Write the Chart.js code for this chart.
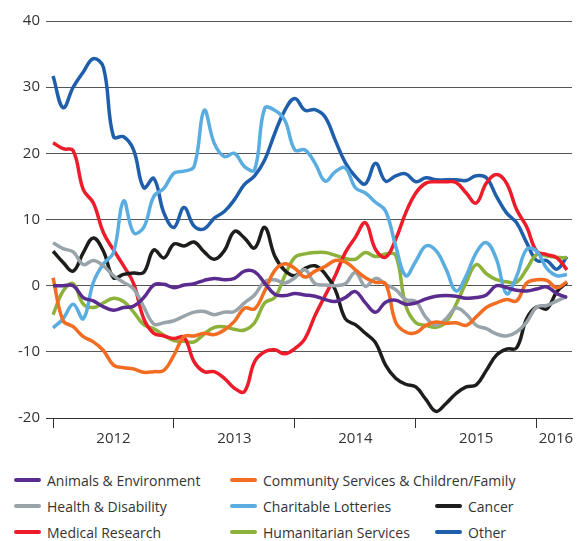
<!DOCTYPE html>
<html>
<head>
<meta charset="utf-8">
<script src="https://cdn.jsdelivr.net/npm/chart.js@4"></script>
<style>
  body { margin: 0; background: #fff; font-family: 'Open Sans', sans-serif; }
  #wrap { position: relative; width: 581px; height: 458px; }
  #legend { padding: 9px 0 0 14px; color: #333; font-size: 14px; }
  .row { display: flex; height: 26px; align-items: center; white-space: nowrap; }
  .item { display: flex; align-items: center; }
  .item .sw { width: 27px; height: 4px; border-radius: 2px; margin-right: 6px; flex: none; }
  .c1 { width: 216px; } .c2 { width: 205px; }
</style>
</head>
<body>
<div id="wrap"><canvas id="grafico"></canvas></div>
<div id="legend"></div>
<script>
// monthly growth, Jan 2012 .. Apr 2016
const years = ['2012', '2013', '2014', '2015', '2016'];

const animals = [0, 0, 0, -1.8, -2.3, -3.2, -3.7, -3.3, -3.1, -1.8, 0.1, 0.2, -0.3, 0.1, 0.3, 0.8, 1.1, 0.9, 1.1, 2.2, 2.1, 0.4, -1.3, -1.5, -1.2, -1.4, -1.6, -2.1, -2.4, -1.8, -0.9, -2.6, -4, -2.5, -2.2, -2.8, -2.6, -2, -1.6, -1.5, -1.6, -1.9, -1.8, -1.4, 0, -0.3, -0.7, -0.8, -0.5, -0.2, -1.2, -1.8];
const community = [1.2, -5.3, -6.2, -7.7, -8.5, -9.8, -12, -12.4, -12.6, -13.1, -13, -12.8, -10.5, -7.7, -7.6, -7.2, -7.4, -6.7, -5.4, -3.4, -3.5, -0.8, 2.3, 3.3, 2.6, 1.3, 2.2, 2.9, 3.8, 3.6, 2.4, 1.2, 0.5, 0.3, -5.5, -7, -7.1, -6, -5.5, -5.7, -5.6, -6, -4.7, -3.3, -2.6, -2.1, -2.3, 0.4, 0.9, 0.8, -0.3, 0.6];
const health = [6.5, 5.6, 5.1, 3.2, 3.8, 3, 1.5, 0.5, -0.5, -3.2, -5.8, -5.6, -5.3, -4.6, -4, -3.9, -4.4, -4, -3.9, -2.6, -1.4, 0.6, 0.9, 0.4, 1.2, 2.4, 0.3, 0.1, 0, 0.3, 2, -0.1, 1.1, 0.2, -0.6, -2.1, -2.4, -4.8, -6, -5, -3.4, -4.3, -6, -6.5, -7.3, -7.6, -7, -5.5, -3.2, -3, -2.3, -1.6];
const lotteries = [-6.4, -5, -2.8, -5, 0.5, 3.3, 5, 12.8, 8, 8.8, 13.5, 14.7, 17, 17.3, 18, 26.5, 21.5, 19.5, 20, 18, 17.5, 26.8, 26.5, 25, 20.5, 20.5, 18.5, 15.8, 17.2, 17.8, 14.8, 14, 12.6, 11.3, 6, 1.5, 3.7, 6, 5.3, 2.5, -0.8, 1.5, 5, 6.5, 4, -1.2, 1.4, 5.5, 5.2, 2.6, 1.5, 1.7];
const cancer = [5.2, 3.5, 2.2, 5, 7.2, 5.2, 1.2, 1.7, 1.9, 2, 5.4, 4.2, 6.3, 6, 6.6, 5.1, 4, 5.3, 8.2, 7.2, 5.7, 8.8, 4.5, 2.3, 1.5, 2.6, 3, 1.8, -0.6, -5, -5.9, -7.2, -8.6, -12, -14, -14.9, -15.3, -17.2, -19, -17.8, -16.3, -15.3, -15, -12.8, -10.5, -9.6, -9.4, -5, -3.2, -3.5, -0.9, 0.5];
const medical = [21.6, 20.7, 20.4, 14.5, 12.5, 8, 5.4, 3, 0.3, -5, -7.2, -7.6, -8, -7.8, -11.5, -13, -13, -14, -15.5, -16, -11.5, -10, -9.7, -10.3, -9.5, -8, -4.5, -1.5, 1.5, 5, 7.3, 9.5, 5.5, 4.3, 7, 11, 14, 15.5, 15.7, 15.7, 15.6, 14, 12.5, 15.5, 16.8, 15.5, 11.5, 8.9, 5.2, 4.7, 4.2, 2.4];
const humanitarian = [-4.4, -0.8, 0.3, -2.8, -3.3, -2.6, -1.9, -2.4, -4, -5.9, -6.5, -7.5, -8.3, -8.4, -8.5, -7.3, -6.3, -6.2, -6.6, -6.7, -5.6, -2.6, -1.8, 1.5, 4.3, 4.8, 5, 5, 4.6, 4.1, 4, 5, 4.4, 4.8, 4.6, -3, -5.6, -6, -6.3, -5.5, -2.8, 0.5, 3.2, 1.8, 0.9, 0.6, 0.5, 2.5, 4.7, 4.5, 4.3, 4.2];
const other = [31.7, 26.9, 30, 32.3, 34.3, 33, 22.5, 22.5, 20.5, 14.8, 16.2, 11, 8.8, 11.8, 9, 8.6, 10.2, 11.2, 13, 15.3, 16.6, 19, 23, 26.5, 28.3, 26.5, 26.6, 25.5, 22, 18.6, 16.5, 15.4, 18.5, 15.8, 16.6, 16.9, 15.7, 16.3, 16, 16, 16, 15.9, 16.6, 16.3, 13.5, 11, 9.5, 6.5, 3.8, 3.8, 2.5, 4.4];

const series = [
    { label: 'Animals & Environment', values: animals, cor: '#5b2c90' },
    { label: 'Community Services & Children/Family', values: community, cor: '#f26c22' },
    { label: 'Health & Disability', values: health, cor: '#98a3aa' },
    { label: 'Charitable Lotteries', values: lotteries, cor: '#5aade1' },
    { label: 'Cancer', values: cancer, cor: '#1d1d1b' },
    { label: 'Medical Research', values: medical, cor: '#ec1c2a' },
    { label: 'Humanitarian Services', values: humanitarian, cor: '#8cb23b' },
    { label: 'Other', values: other, cor: '#1e5eab' }
];

// legend rows as in the printed chart
const legendRows = [
    ['Animals & Environment', 'Community Services & Children/Family'],
    ['Health & Disability', 'Charitable Lotteries', 'Cancer'],
    ['Medical Research', 'Humanitarian Services', 'Other']
];

const fonte = "'Open Sans', sans-serif";
const yearTicks = [0, 12, 24, 36, 48];
const labelTicks = [6, 18, 30, 42, 49.9];

const ctx = document.getElementById('grafico').getContext('2d');
const chart = new Chart(ctx, {
    type: 'line',
    data: {
        datasets: series.map(s => ({
            label: s.label,
            data: s.values.map((v, i) => ({ x: i, y: v })),
            borderColor: s.cor,
            backgroundColor: s.cor,
            borderWidth: 3.5,
            pointRadius: 0,
            tension: 0.4,
            fill: false
        }))
    },
    options: {
        responsive: true,
        maintainAspectRatio: false,
        animation: false,
        layout: { padding: { top: 21, right: 9, left: 0, bottom: 0 } },
        plugins: { legend: { display: false }, tooltip: { enabled: false } },
        scales: {
            x: {
                type: 'linear',
                min: -0.7,
                max: 51.5,
                afterBuildTicks: axis => {
                    axis.ticks = yearTicks.concat(labelTicks).sort((a, b) => a - b).map(v => ({ value: v }));
                },
                afterFit: axis => { axis.height = 40; },
                border: { display: true, color: '#333', width: 1 },
                grid: {
                    drawOnChartArea: false,
                    drawTicks: true,
                    tickLength: 10,
                    color: c => yearTicks.includes(c.tick && c.tick.value) ? '#333' : 'rgba(0,0,0,0)'
                },
                ticks: {
                    autoSkip: false,
                    maxRotation: 0,
                    padding: 2,
                    color: '#333',
                    font: { family: fonte, size: 15 },
                    callback: v => {
                        const k = labelTicks.indexOf(v);
                        return k >= 0 ? years[k] : '';
                    }
                }
            },
            y: {
                min: -20,
                max: 40,
                afterFit: axis => { axis.width = 46; },
                border: { display: false },
                grid: { color: '#555', lineWidth: 1, drawTicks: false },
                ticks: {
                    stepSize: 10,
                    padding: 6,
                    color: '#333',
                    font: { family: fonte, size: 15 }
                }
            }
        }
    }
});

// HTML legend
const legenda = document.getElementById('legend');
legendRows.forEach(row => {
    const div = document.createElement('div');
    div.className = 'row';
    row.forEach((nome, j) => {
        const s = series.find(d => d.label === nome);
        const item = document.createElement('div');
        item.className = 'item' + (j < 2 ? ' c' + (j + 1) : '');
        item.innerHTML = '<span class="sw" style="background:' + s.cor + '"></span><span>' + nome + '</span>';
        div.appendChild(item);
    });
    legenda.appendChild(div);
});
</script>
</body>
</html>
